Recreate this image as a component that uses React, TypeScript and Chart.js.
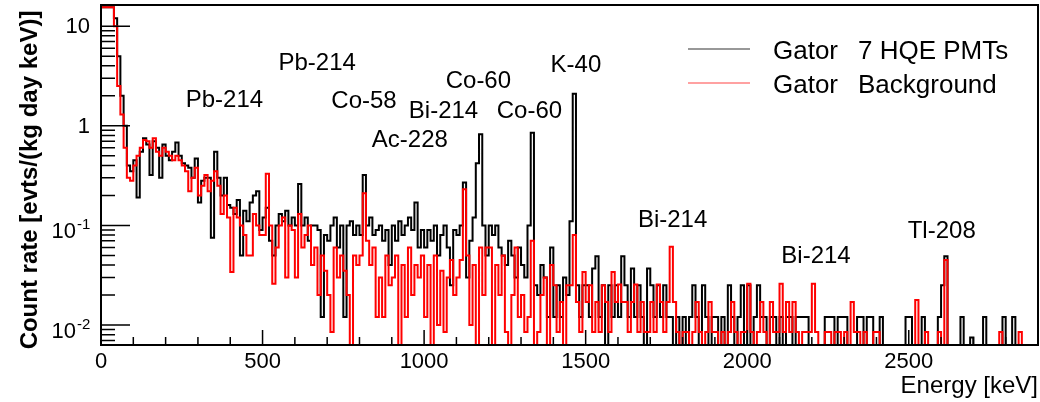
import React, { useEffect, useRef } from "react";
import { Chart, registerables } from "chart.js";

Chart.register(...registerables);

// ---- data (10 keV bins, starting at 0 keV) ----
const BIN_WIDTH_KEV = 10;
const X_MIN = 0;
const X_MAX = 2900;
const Y_MIN = 0.0063;
const Y_MAX = 16.3;
const FLOOR = 0.003; // empty bins drawn below the frame

const pmtRates: number[] = [
  15.5, 15.5, 15.5, 15.5, 12, 5, 2.0, 1.0, 0.4, 0.35,
  0.45, 0.19, 0.55, 0.75, 0.65, 0.32, 0.7, 0.6, 0.3, 0.65,
  0.5, 0.45, 0.55, 0.68, 0.5, 0.42, 0.4, 0.38, 0.3, 0.47,
  0.17, 0.28, 0.3, 0.3, 0.075, 0.55, 0.3, 0.2, 0.3, 0.16,
  0.15, 0.13, 0.18, 0.05, 0.14, 0.11, 0.17, 0.2, 0.22, 0.09,
  0.12, 0.15, 0.07, 0.05, 0.1, 0.13, 0.11, 0.14, 0.1, 0.12,
  0.1, 0.26, 0.1, 0.12, 0.07, 0.1, 0.1, 0.09, 0.012, 0.08,
  0.07, 0.1, 0.12, 0.06, 0.1, 0.012, 0.1, 0.11, 0.08, 0.1,
  0.08, 0.32, 0.1, 0.12, 0.08, 0.09, 0.1, 0.07, 0.09, 0.04,
  0.1, 0.07, 0.11, 0.08, 0.1, 0.12, 0.09, 0.17, 0.06, 0.09,
  0.06, 0.09, 0.07, 0.1, 0.05, 0.08, 0.1, 0.06, 0.025, 0.09,
  0.08, 0.1, 0.27, 0.03, 0.07, 0.12, 0.42, 0.82, 0.1, 0.05,
  0.1, 0.08, 0.1, 0.06, 0.05, 0.04, 0.07, 0.05, 0.03, 0.06,
  0.04, 0.03, 0.1, 0.85, 0.025, 0.02, 0.04, 0.03, 0.012, 0.06,
  0.012, 0.025, 0.012, 0.03, 0.02, 0.11, 2.1, 0.025, 0.012, 0.025,
  0.025, 0.012, 0.037, 0.049, 0.012, 0.025, 0, 0.025, 0.012, 0.025,
  0.012, 0.049, 0.025, 0.012, 0.037, 0.012, 0.025, 0.012, 0, 0.037,
  0.025, 0.012, 0.025, 0.012, 0.025, 0.012, 0.012, 0, 0.012, 0,
  0.012, 0, 0.012, 0.025, 0.012, 0, 0.025, 0.012, 0, 0.012,
  0.012, 0, 0.012, 0, 0.025, 0.012, 0, 0.012, 0.025, 0,
  0.025, 0, 0.012, 0.025, 0.012, 0.012, 0, 0.012, 0.012, 0,
  0.012, 0, 0.012, 0.012, 0, 0.012, 0.012, 0.012, 0.012, 0,
  0, 0, 0, 0, 0.012, 0.012, 0.012, 0, 0.012, 0.012,
  0.012, 0, 0, 0, 0.012, 0.012, 0, 0.012, 0.012, 0,
  0, 0.012, 0, 0, 0, 0, 0, 0, 0, 0.012,
  0.012, 0, 0, 0, 0.012, 0, 0, 0, 0, 0.012,
  0.025, 0.049, 0, 0, 0, 0, 0.012, 0, 0, 0.0075,
  0, 0, 0, 0.012, 0, 0, 0, 0, 0, 0.012,
  0, 0, 0.012, 0, 0, 0, 0, 0, 0, 0,
];

const backgroundRates: number[] = [
  15.5, 15.5, 15.5, 15.5, 10, 2.5, 1.3, 0.6, 0.3, 0.28,
  0.4, 0.5, 0.6, 0.72, 0.7, 0.6, 0.75, 0.55, 0.5, 0.6,
  0.55, 0.5, 0.45, 0.5, 0.45, 0.4, 0.35, 0.22, 0.3, 0.38,
  0.2, 0.25, 0.32, 0.22, 0.28, 0.35, 0.25, 0.13, 0.2, 0.12,
  0.034, 0.15, 0.12, 0.1, 0.08, 0.05, 0.05, 0.13, 0.1, 0.08,
  0.08, 0.33, 0.1, 0.026, 0.06, 0.1, 0.12, 0.03, 0.1, 0.09,
  0.03, 0.13, 0.06, 0.08, 0.1, 0.04, 0.06, 0.02, 0.05, 0.035,
  0.02, 0.0085, 0.06, 0.03, 0.05, 0.035, 0.02, 0, 0.05, 0.04,
  0.05, 0.21, 0.07, 0.04, 0.06, 0.012, 0.03, 0.012, 0.05, 0.025,
  0.03, 0.05, 0, 0.04, 0.012, 0.06, 0.02, 0.04, 0.03, 0.05,
  0.012, 0.04, 0, 0.05, 0.01, 0.035, 0.0085, 0.03, 0.045, 0.02,
  0.03, 0.045, 0.23, 0.05, 0.01, 0.04, 0, 0.06, 0.02, 0.06,
  0.06, 0, 0.04, 0.02, 0.05, 0.0085, 0, 0.02, 0.06, 0.012,
  0.02, 0.0085, 0.012, 0.07, 0, 0.0085, 0.02, 0.03, 0, 0.04,
  0.025, 0.0085, 0.017, 0, 0.025, 0.025, 0.08, 0.017, 0.0085, 0.034,
  0.017, 0.025, 0.0085, 0.017, 0.0085, 0.025, 0.017, 0.0085, 0.034, 0.017,
  0.0255, 0.017, 0.017, 0.0085, 0.017, 0.0255, 0.0085, 0.017, 0.0085, 0.0085,
  0.017, 0.0085, 0.0255, 0.017, 0.0085, 0.017, 0.061, 0.017, 0.0085, 0,
  0.0085, 0.0085, 0, 0.0085, 0.017, 0.0085, 0, 0.0085, 0.017, 0.0085,
  0.0085, 0, 0.0085, 0, 0.0085, 0.017, 0.0085, 0, 0.0085, 0.0085,
  0.026, 0.0085, 0, 0.0085, 0.017, 0.0085, 0, 0.017, 0.0085, 0.0085,
  0.026, 0.0085, 0.017, 0.0085, 0.017, 0.0085, 0, 0.0085, 0.0085, 0.0085,
  0.026, 0.0085, 0, 0, 0.0085, 0.0085, 0, 0.0085, 0.0085, 0,
  0.0085, 0, 0.017, 0.0085, 0.0085, 0, 0.0085, 0, 0, 0.0085,
  0.0085, 0, 0, 0, 0, 0, 0, 0, 0, 0,
  0, 0, 0.0178, 0, 0, 0.0085, 0, 0, 0, 0.0085,
  0, 0.045, 0, 0, 0, 0, 0, 0, 0, 0,
  0, 0, 0, 0, 0, 0, 0, 0, 0.0085, 0,
  0, 0, 0, 0, 0.0085, 0, 0, 0, 0, 0,
];

const seriesNames = ["Gator", "Gator"];
const seriesDetails = ["7 HQE PMTs", "Background"];
const seriesColors = ["#000000", "#ff0000"];
const legendLineColors = ["#333333", "#ff4444"];

const xTickValues = [0, 500, 1000, 1500, 2000, 2500];
const xMinorStep = 100;
const yDecadeValues = [0.01, 0.1, 1, 10];
const yDecadeBase = ["10", "10", "1", "10"];
const yDecadeExp = ["-2", "-1", "", ""];

const xTitle = "Energy [keV]";
const yTitle = "Count rate [evts/(kg day keV)]";

const peakLabels = ["Pb-214", "Pb-214", "Co-58", "Co-60", "Bi-214", "Ac-228", "Co-60", "K-40", "Bi-214", "Bi-214", "Tl-208"];
const peakLabelEnergies = [382, 669, 814, 1168, 1060, 956, 1326, 1470, 1769, 2213, 2602];
const peakLabelRates = [1.55, 3.65, 1.52, 2.41, 1.2, 0.615, 1.2, 3.49, 0.0966, 0.042, 0.0749];

const FONT = "'Liberation Sans', Arial, Helvetica, sans-serif";

function toSteps(values: number[]) {
  const pts: { x: number; y: number }[] = [{ x: X_MIN, y: FLOOR }];
  values.forEach((v, i) => pts.push({ x: X_MIN + i * BIN_WIDTH_KEV, y: v > 0 ? v : FLOOR }));
  const last = values[values.length - 1];
  pts.push({ x: X_MIN + values.length * BIN_WIDTH_KEV, y: last > 0 ? last : FLOOR });
  pts.push({ x: X_MIN + values.length * BIN_WIDTH_KEV, y: FLOOR });
  return pts;
}

const rootAxesPlugin = {
  id: "rootAxes",
  afterDatasetsDraw(chart: any) {
    const { ctx, chartArea: a, scales } = chart;
    const xs = scales.x;
    const ys = scales.y;
    ctx.save();
    ctx.strokeStyle = "#000";
    ctx.fillStyle = "#000";

    // frame
    ctx.lineWidth = 2;
    ctx.strokeRect(a.left, a.top, a.right - a.left, a.bottom - a.top);

    // x ticks
    ctx.lineWidth = 1.5;
    ctx.beginPath();
    for (let e = X_MIN; e <= X_MAX; e += xMinorStep) {
      const px = xs.getPixelForValue(e);
      const major = xTickValues.includes(e);
      const len = major ? 15 : 8;
      ctx.moveTo(px, a.bottom);
      ctx.lineTo(px, a.bottom - len);
    }
    // y ticks
    for (let d = -3; d <= 1; d++) {
      for (let m = 1; m <= 9; m++) {
        const v = m * Math.pow(10, d);
        if (v < Y_MIN || v > Y_MAX) continue;
        const py = ys.getPixelForValue(v);
        const len = m === 1 ? 29 : 14;
        ctx.moveTo(a.left, py);
        ctx.lineTo(a.left + len, py);
      }
    }
    ctx.stroke();

    // x tick labels
    ctx.font = `22px ${FONT}`;
    ctx.textAlign = "center";
    ctx.textBaseline = "alphabetic";
    xTickValues.forEach((e) => {
      ctx.fillText(String(e), xs.getPixelForValue(e), a.bottom + 23);
    });

    // y tick labels
    yDecadeValues.forEach((v, i) => {
      const py = ys.getPixelForValue(v);
      if (yDecadeExp[i]) {
        ctx.font = `22px ${FONT}`;
        ctx.textAlign = "right";
        ctx.fillText(yDecadeBase[i], 76, py + 13);
        ctx.font = `15px ${FONT}`;
        ctx.textAlign = "left";
        ctx.fillText(yDecadeExp[i], 77, py + 4);
      } else {
        ctx.font = `22px ${FONT}`;
        ctx.textAlign = "right";
        ctx.fillText(yDecadeBase[i], 90, py + 7);
      }
    });

    // axis titles
    ctx.font = `24px ${FONT}`;
    ctx.textAlign = "right";
    ctx.fillText(xTitle, a.right, 393);

    ctx.save();
    ctx.translate(37, 180);
    ctx.rotate(-Math.PI / 2);
    ctx.font = `bold 24px ${FONT}`;
    ctx.textAlign = "center";
    ctx.fillText(yTitle, 0, 0);
    ctx.restore();

    // peak labels
    ctx.font = `24px ${FONT}`;
    ctx.textAlign = "center";
    peakLabels.forEach((t, i) => {
      ctx.fillText(t, xs.getPixelForValue(peakLabelEnergies[i]), ys.getPixelForValue(peakLabelRates[i]));
    });

    // legend
    const legendRows = [49, 83];
    seriesNames.forEach((name, i) => {
      const y = legendRows[i];
      ctx.strokeStyle = legendLineColors[i];
      ctx.lineWidth = 1.2;
      ctx.beginPath();
      ctx.moveTo(688, y);
      ctx.lineTo(750, y);
      ctx.stroke();
      ctx.font = `26px ${FONT}`;
      ctx.textAlign = "left";
      ctx.fillStyle = "#000";
      ctx.fillText(name, 773, y + 10);
      ctx.fillText(seriesDetails[i], 858, y + 10);
    });

    ctx.restore();
  },
};

export default function App() {
  const canvasRef = useRef<HTMLCanvasElement | null>(null);

  useEffect(() => {
    if (!canvasRef.current) return;
    const chart = new Chart(canvasRef.current, {
      type: "line",
      data: {
        datasets: [
          {
            label: `${seriesNames[0]} ${seriesDetails[0]}`,
            data: toSteps(pmtRates),
            borderColor: seriesColors[0],
            borderWidth: 2,
            stepped: "before",
            pointRadius: 0,
            fill: false,
            order: 2,
          },
          {
            label: `${seriesNames[1]} ${seriesDetails[1]}`,
            data: toSteps(backgroundRates),
            borderColor: seriesColors[1],
            borderWidth: 2,
            stepped: "before",
            pointRadius: 0,
            fill: false,
            order: 1,
          },
        ],
      },
      options: {
        animation: false,
        responsive: false,
        devicePixelRatio: 1,
        layout: { padding: { left: 101, top: 5, right: 2, bottom: 57 } },
        plugins: { legend: { display: false }, tooltip: { enabled: false } },
        scales: {
          x: { type: "linear", min: X_MIN, max: X_MAX, display: false },
          y: { type: "logarithmic", min: Y_MIN, max: Y_MAX, display: false },
        },
      },
      plugins: [rootAxesPlugin],
    });
    return () => chart.destroy();
  }, []);

  return (
    <div style={{ position: "absolute", left: 0, top: 0, width: 1040, height: 402, background: "#fff" }}>
      <canvas ref={canvasRef} width={1040} height={402} />
    </div>
  );
}
